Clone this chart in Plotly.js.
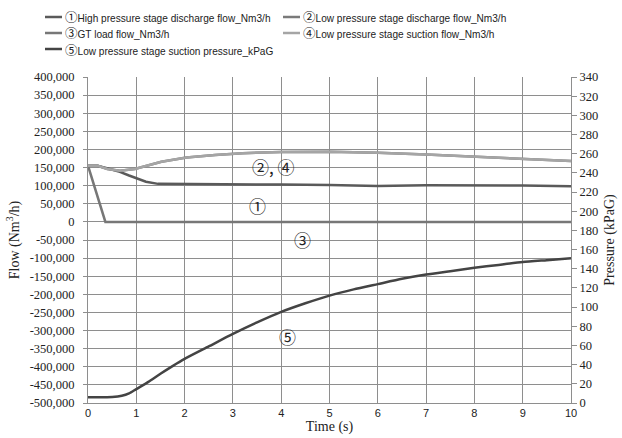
<!DOCTYPE html>
<html>
<head>
<meta charset="utf-8">
<script src="https://cdn.plot.ly/plotly-3.0.1.min.js"></script>
<style>html,body{margin:0;padding:0;background:#fff;}#chart{width:622px;height:438px;}</style>
</head>
<body>
<div id="chart"></div>
<script>
// ---- data ----
const hpTime = [0, 0.2, 0.45, 0.66, 0.85, 1.0, 1.2, 1.45, 2, 3, 4, 5, 6, 7, 8, 9, 10];
const hpDischargeFlow = [155000, 155000, 146000, 138000, 128000, 120000, 111000, 105000, 105000, 103500, 103000, 102000, 99000, 101000, 101000, 100500, 98500];

const lpTime = [0, 0.2, 0.4, 0.66, 0.97, 1.25, 1.52, 2.04, 2.63, 3.2, 4, 5, 6, 7, 8, 9, 10];
const lpDischargeFlow = [155000, 155000, 146000, 141000, 146000, 156000, 166000, 178000, 185000, 189500, 193000, 193500, 191000, 186000, 180500, 174500, 168000];
const lpSuctionFlow   = [155000, 155000, 146000, 141000, 146000, 156000, 166000, 178000, 185000, 189500, 193000, 193500, 191000, 186000, 180500, 174500, 168000];

const gtTime = [0, 0.36, 1, 2, 3, 4, 5, 6, 7, 8, 9, 10];
const gtLoadFlow = [155000, 0, 0, 0, 0, 0, 0, 0, 0, 0, 0, 0];

const pTime = [0, 0.5, 0.7, 0.85, 1.0, 1.25, 1.5, 1.75, 2, 2.5, 3, 3.5, 4, 4.5, 5, 5.5, 6, 6.5, 7, 7.5, 8, 8.5, 9, 9.5, 10];
const lpSuctionPressure = [6, 6.3, 7.5, 10, 14.5, 22, 30.5, 38.5, 46, 59, 72, 84, 95, 104, 112, 118.5, 124, 129.5, 134, 137.5, 141, 144, 147, 149, 151];

const seriesMarks = ["①", "②", "③", "④", "⑤"];
const seriesNames = [
  "High pressure stage discharge flow_Nm3/h",
  "Low pressure stage discharge flow_Nm3/h",
  "GT load flow_Nm3/h",
  "Low pressure stage suction flow_Nm3/h",
  "Low pressure stage suction pressure_kPaG"
];
const seriesColors = ["#5a5a5a", "#7a7a7a", "#777777", "#a5a5a5", "#444444"];

const flowTickVals = [400000, 350000, 300000, 250000, 200000, 150000, 100000, 50000, 0, -50000, -100000, -150000, -200000, -250000, -300000, -350000, -400000, -450000, -500000];
const flowTickText = ["400,000","350,000","300,000","250,000","200,000","150,000","100,000","50,000","0","-50,000","-100,000","-150,000","-200,000","-250,000","-300,000","-350,000","-400,000","-450,000","-500,000"];
const pressureTickVals = [0,20,40,60,80,100,120,140,160,180,200,220,240,260,280,300,320,340];
const timeTickVals = [0,1,2,3,4,5,6,7,8,9,10];

const labelTexts = ["②, ④", "①", "③", "⑤"];
const labelX = [3.85, 3.5, 4.45, 4.14];
const labelY = [152000, 46000, -48000, -317000];
// --------------------------------------

const W = 622, H = 438, ML = 88, MR = 51, MT = 77, MB = 35;
const PW = W - ML - MR, PH = H - MT - MB;
const px2x = p => (p - ML) / PW;
const py2y = p => (H - MB - p) / PH;

const serif = "Liberation Serif, Times New Roman, serif";
const sans = "Liberation Sans, Arial, sans-serif";
const gridC = "#8e8e8e";

const traces = [
  {x: hpTime, y: hpDischargeFlow},
  {x: lpTime, y: lpDischargeFlow},
  {x: gtTime, y: gtLoadFlow},
  {x: lpTime, y: lpSuctionFlow},
  {x: pTime, y: lpSuctionPressure, yaxis: "y2", line: {shape: "spline", smoothing: 0.6}}
].map((t, i) => Object.assign({type: "scatter", mode: "lines", hoverinfo: "skip",
  name: seriesMarks[i] + seriesNames[i]}, t,
  {line: Object.assign({color: seriesColors[i], width: 2.5}, t.line || {})}));

const annotations = labelTexts.map((t, i) => ({
  x: labelX[i], y: labelY[i], xref: "x", yref: "y", text: t, showarrow: false,
  font: {family: "Noto Sans CJK JP, DejaVu Sans, sans-serif", size: 17, color: "#222"}
}));

// manual legend (two columns)
const legCol = [45, 283];
const legRow = [17, 33, 49];
const shapes = [];
seriesNames.forEach((n, i) => {
  const cx = legCol[i % 2], cy = legRow[Math.floor(i / 2)];
  shapes.push({type: "line", xref: "paper", yref: "paper",
    x0: px2x(cx), x1: px2x(cx + 17), y0: py2y(cy), y1: py2y(cy),
    line: {color: seriesColors[i], width: 2.5}});
  annotations.push({xref: "paper", yref: "paper", x: px2x(cx + 18), y: py2y(cy),
    xanchor: "left", yanchor: "middle", showarrow: false,
    text: '<span style="font-family:Noto Sans CJK JP;font-size:12.5px">' + seriesMarks[i] + '</span>' + n,
    font: {family: sans, size: 10.1, color: "#222"}});
});

const layout = {
  width: W, height: H,
  margin: {l: ML, r: MR, t: MT, b: MB},
  paper_bgcolor: "#fff", plot_bgcolor: "#fff",
  showlegend: false,
  xaxis: {
    range: [0, 10], tickvals: timeTickVals, showgrid: true, gridcolor: gridC, gridwidth: 1,
    zeroline: false, showline: true, linecolor: gridC,
    ticks: "", tickfont: {family: sans, size: 11, color: "#222"},
    title: {text: "Time (s)", font: {family: serif, size: 14, color: "#222"}, standoff: 2},
    automargin: false
  },
  yaxis: {
    range: [-500000, 400000], tickvals: flowTickVals, ticktext: flowTickText,
    showgrid: true, gridcolor: gridC, gridwidth: 1, zeroline: false,
    showline: true, linecolor: gridC, ticks: "outside", ticklen: 4, tickcolor: gridC,
    ticklabelstandoff: 6,
    tickfont: {family: serif, size: 12.5, color: "#222"},
    title: {text: "Flow (Nm<sup>3</sup>/h)", font: {family: serif, size: 14, color: "#222"}, standoff: 6},
    automargin: false
  },
  yaxis2: {
    range: [0, 340], tickvals: pressureTickVals, overlaying: "y", side: "right",
    showgrid: false, zeroline: false, showline: true, linecolor: gridC,
    ticks: "outside", ticklen: 5, tickcolor: gridC,
    tickfont: {family: serif, size: 12.5, color: "#222"},
    title: {text: "Pressure (kPaG)", font: {family: serif, size: 14, color: "#222"}, standoff: 6},
    automargin: false
  },
  shapes: shapes,
  annotations: annotations
};

Plotly.newPlot("chart", traces, layout, {displayModeBar: false, staticPlot: true});
</script>
</body>
</html>
